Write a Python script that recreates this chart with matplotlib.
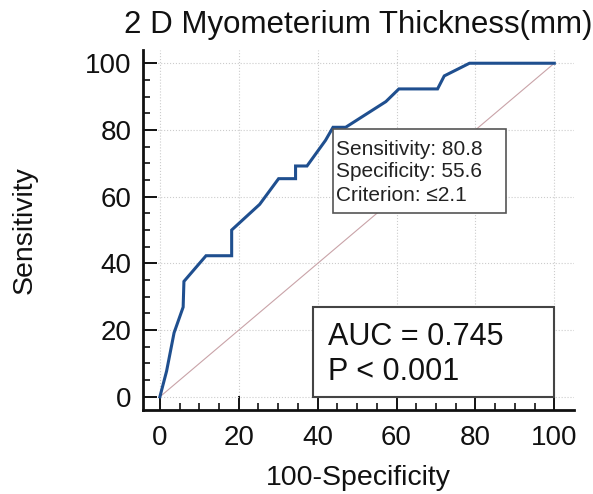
import matplotlib
matplotlib.use("Agg")
import matplotlib.pyplot as plt
from matplotlib.patches import Rectangle
import numpy as np

plt.rcParams['font.family'] = ['Liberation Sans', 'DejaVu Sans']

# ROC curve (100-specificity, sensitivity)
fpr = [0, 1.7, 3.6, 5.9, 6.1, 11.7, 18.2, 18.2, 25.3, 30.1, 34.4, 34.4, 37.3,
       42.0, 43.9, 47.1, 57.3, 60.6, 70.4, 72.1, 78.5, 100]
sens = [0, 7.7, 19.2, 26.9, 34.6, 42.3, 42.3, 50.0, 57.7, 65.4, 65.4, 69.2, 69.2,
        76.9, 80.8, 80.8, 88.5, 92.3, 92.3, 96.2, 100, 100]
ticks = [0, 20, 40, 60, 80, 100]
minor_ticks = list(range(0, 101, 5))

title = "2 D Myometerium Thickness(mm)"
point_lines = ["Sensitivity: 80.8", "Specificity: 55.6", "Criterion: \u22642.1"]
auc_lines = ["AUC = 0.745", "P < 0.001"]

fig = plt.figure(figsize=(5.93, 4.94), dpi=100)
ax = fig.add_axes([0.241, 0.171, 0.727, 0.728])

ax.plot([0, 100], [0, 100], color='#c9a3a8', lw=0.8, zorder=2)
ax.plot(fpr, sens, color='#1f4f8f', lw=2.2, zorder=3, solid_joinstyle='miter')

ax.set_xlim(-4.3, 105)
ax.set_ylim(-3.8, 104)
ax.set_xticks(ticks)
ax.set_yticks(ticks)
ax.set_xticks(minor_ticks, minor=True)
ax.set_yticks(minor_ticks, minor=True)
ax.grid(True, which='major', color='#cccccc', ls=':', lw=0.8)
ax.set_axisbelow(True)

for s in ['top', 'right']:
    ax.spines[s].set_visible(False)
for s in ['left', 'bottom']:
    ax.spines[s].set_linewidth(2)
    ax.spines[s].set_color('#111111')

ax.tick_params(which='major', direction='in', length=10, width=1.4, labelsize=20,
               colors='#111111')
ax.tick_params(which='minor', direction='in', length=5, width=1.2, colors='#111111')
ax.tick_params(axis='x', which='major', pad=11)
ax.tick_params(axis='y', which='major', pad=8)

ax.set_title(title, fontsize=22.5, pad=12, color='#111111')
ax.set_xlabel("100-Specificity", fontsize=20.5, color='#111111')
ax.set_ylabel("Sensitivity", fontsize=20.5, color='#111111')
ax.xaxis.set_label_coords(0.5, -0.155)
ax.yaxis.set_label_coords(-0.245, 0.5)

# criterion box
ax.add_patch(Rectangle((44, 55), 43.8, 25.2, facecolor='white', edgecolor='#555555',
                       lw=1.2, zorder=4))
for txt, yy in zip(point_lines, [72.6, 65.9, 58.6]):
    ax.text(44.6, yy, txt, fontsize=15, va='baseline', ha='left', color='#222222', zorder=5)

# AUC box
ax.add_patch(Rectangle((38.7, 0), 61.3, 27, facecolor='white', edgecolor='#444444',
                       lw=1.5, zorder=4))
for txt, yy in zip(auc_lines, [15.6, 5.1]):
    ax.text(42.7, yy, txt, fontsize=22, va='baseline', ha='left', color='#111111', zorder=5)

fig.savefig('out.png', dpi=100)
